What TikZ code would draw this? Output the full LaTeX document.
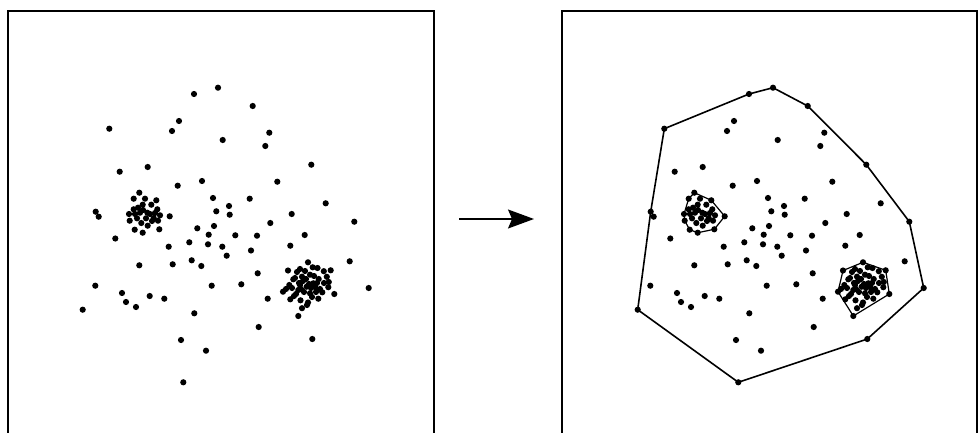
\documentclass[tikz,border=0pt]{standalone}
\usetikzlibrary{arrows.meta}
\begin{document}
\begin{tikzpicture}[x=1pt,y=-1pt,
  framestyle/.style={line width=2pt,line cap=rect},
  hullstyle/.style={line width=1.6pt,line join=round},
  subhull/.style={line width=1.2pt,line join=round},
  arrowstyle/.style={line width=1.4pt,-{Stealth[length=26pt,width=19pt,inset=4pt]}}]
\useasboundingbox (0,0) rectangle (979,433);
\def\ptsScatter{194/94,218/87.7,252.7/106,109.3/128.7,179/121,172/131,222.7/140,119.7/171.7,147.7/167,177.7/185.7,202/181,213/198,249.7/198.7,229/206,216.3/211.3,229.7/214.7,95.7/211.7,98.7/216.7,197.3/228.3,214/226,208.7/234.7,235.3/235.3,257/235.7,115.3/238.5,168.7/246.7,189.3/242.3,208/244.3,222.3/246.7,226.7/255.7,251/250.5,139.3/265.3,172.7/264.3,191.7/260.3,201.3/266,257.7/273.3,95.3/285.7,122/293,126/302,136/307,149.7/296,164.3/298.7,211.7/285.7,241.3/284.3,82.7/309.7,194.3/313.3,258.7/327,181/340,206/350.7,183.3/382.3,269.3/132.7,265.3/146,311.3/164.7,277.3/181.7,325.7/203.3,291.7/214,270.3/223,354.3/221.7,304.7/235,290.3/245.7,267.7/298.7,312.3/339,349.7/261.3,368.7/288}
\def\ptsClusterA{139.3/192.7,133.7/198.7,145/198.7,156.3/200.3,142.7/204.7,151.3/204.7,133.7/209.3,138/207.7,157.3/209.3,129/214,140/212.7,147.3/212.7,160/215.3,137/218.3,146/218.3,153.7/218,129.7/220.7,158/220.7,141.3/223,147.7/225.7,134.7/229.7,142.7/232.7,159.3/229.3,169.7/216.3,143/210,150/214,152/221,135/214,155/213}
\def\ptsClusterB{308/262.3,288/270.5,300/269,312.7/267.3,317.5/268,323.8/271.2,330.7/270.3,310/274.7,326.8/276.8,328.8/282,293.3/279.3,302/276.7,318.7/279,289.3/285,328.3/287.2,283/291.7,334.3/294,322.3/292.3,290.3/299.3,300.5/300.3,308/302.5,318.3/298.7,302/308.2,298.3/316,306.7/286.7,313.3/283.3,298.3/290,310/293.3,295/278,303/281,306/279,309/284,315/287,304/292,296/294,312/297,317/283,320/289,300/285,292/288,314/276,324/283,294/296,307/305,286/289,297/272,305/271,301/289,311/288,316/292,299/283}
% left panel
\draw[framestyle] (7.5,440) -- (7.5,11) -- (433.5,11) -- (433.5,440);
\foreach \px/\py in \ptsScatter {\fill (\px,\py) circle (3.1pt);}
\foreach \px/\py in \ptsClusterA {\fill (\px,\py) circle (3.1pt);}
\foreach \px/\py in \ptsClusterB {\fill (\px,\py) circle (3.1pt);}
% arrow
\coordinate (arrS) at (459,219);
\coordinate (arrE) at (534,219);
\draw[arrowstyle] (arrS) -- (arrE);
% right panel
\draw[framestyle] (562,440) -- (562,11) -- (977,11) -- (977,440);
\begin{scope}[xshift=555pt]
\foreach \px/\py in \ptsScatter {\fill (\px,\py) circle (3.1pt);}
\foreach \px/\py in \ptsClusterA {\fill (\px,\py) circle (3.1pt);}
\foreach \px/\py in \ptsClusterB {\fill (\px,\py) circle (3.1pt);}
\draw[hullstyle] (82.7,309.7) -- (95.7,211.7) -- (109.3,128.7) -- (194,94) -- (218,87.7) -- (252.7,106) -- (311.3,164.7) -- (354.3,221.7) -- (368.7,288) -- (312.3,339) -- (183.3,382.3) -- cycle;
\draw[subhull] (139.3,192.7) -- (156.3,200.3) -- (169.7,216.3) -- (159.3,229.3) -- (142.7,232.7) -- (134.7,229.7) -- (129.7,220.7) -- (129,214) -- (133.7,198.7) -- cycle;
\draw[subhull] (288,270.5) -- (308,262.3) -- (330.7,270.3) -- (334.3,294) -- (298.3,316) -- (283,291.7) -- cycle;
\end{scope}
\end{tikzpicture}
\end{document}
